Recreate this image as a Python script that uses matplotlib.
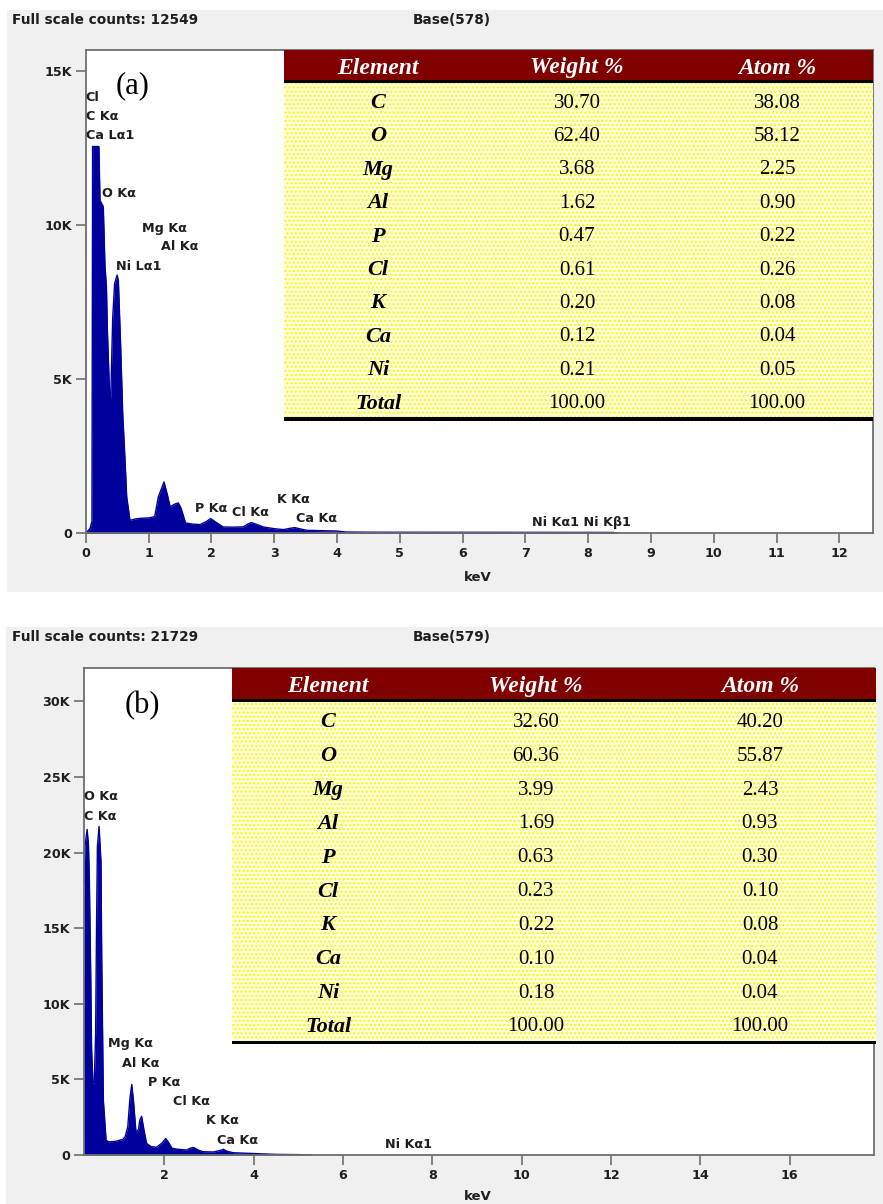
import matplotlib.pyplot as plt
from matplotlib.patches import Rectangle

W, H = 883, 1204
PANEL_BG = "#f0f0f0"
SPEC_BLUE = "#00009c"
LABEL_COL = "#1e1e1e"
SPINE_COL = "#6e6e6e"
HEAD_RED = "#800000"

# EDS spectrum, sample (a): energy in keV, counts
energy_a = [0.00, 0.07, 0.10, 0.11, 0.21, 0.228, 0.28, 0.307, 0.33, 0.345, 0.387,
            0.40, 0.43, 0.46, 0.50, 0.52, 0.557, 0.589, 0.626, 0.653, 0.705,
            0.80, 0.90, 1.00, 1.08, 1.10, 1.156, 1.247, 1.30, 1.345, 1.42, 1.475,
            1.52, 1.59, 1.70, 1.82, 1.92, 1.99, 2.08, 2.19, 2.35, 2.51, 2.58,
            2.64, 2.72, 2.83, 3.00, 3.15, 3.25, 3.33, 3.42, 3.52, 3.75, 3.98,
            4.15, 4.50, 6.00, 7.50, 8.40, 8.45, 8.50]
counts_a = [0, 160, 400, 12549, 12549, 10800, 10600, 8670, 8000, 6600, 4100,
            4500, 7000, 8100, 8380, 8200, 6050, 3900, 2370, 1180, 420,
            470, 490, 500, 530, 560, 1180, 1666, 1250, 855, 950, 985,
            800, 335, 300, 282, 380, 477, 350, 205, 200, 210, 300,
            347, 290, 205, 150, 120, 160, 185, 140, 97, 85, 75,
            42, 35, 32, 30, 28, 10, 0]

# EDS spectrum, sample (b)
energy_b = [0.20, 0.22, 0.27, 0.30, 0.32, 0.35, 0.37, 0.40, 0.43, 0.46, 0.48,
            0.50, 0.537, 0.58, 0.597, 0.634, 0.694, 0.75, 0.90, 1.07, 1.12,
            1.18, 1.23, 1.27, 1.31, 1.366, 1.42, 1.45, 1.49, 1.54, 1.60, 1.70,
            1.82, 1.95, 2.03, 2.10, 2.17, 2.30, 2.50, 2.58, 2.65, 2.74, 2.86,
            3.10, 3.25, 3.32, 3.40, 3.54, 3.98, 4.50, 5.00, 5.20, 5.30]
counts_b = [18000, 20380, 21530, 20500, 18180, 12000, 7000, 4760, 4760, 8000, 15000,
            20400, 21729, 19400, 12900, 3600, 980, 870, 900, 1030, 1200,
            1860, 3800, 4660, 3500, 1440, 1700, 2300, 2560, 1700, 770, 560,
            505, 800, 1095, 800, 440, 380, 330, 450, 505, 350, 218,
            200, 300, 374, 250, 150, 100, 40, 25, 10, 0]

# peak labels: text, keV, counts
peaks_a = [("Cl", 0.0, 14125), ("C K\u03b1", 0.0, 13508), ("Ca L\u03b11", 0.0, 12891),
           ("O K\u03b1", 0.26, 11040), ("Mg K\u03b1", 0.90, 9903),
           ("Al K\u03b1", 1.20, 9319), ("Ni L\u03b11", 0.48, 8669),
           ("P K\u03b1", 1.74, 812), ("Cl K\u03b1", 2.33, 672),
           ("K K\u03b1", 3.05, 1104), ("Ca K\u03b1", 3.35, 477),
           ("Ni K\u03b11 Ni K\u03b21", 7.10, 347)]
peaks_b = [("O K\u03b1", 0.19, 23728), ("C K\u03b1", 0.19, 22370),
           ("Mg K\u03b1", 0.73, 7367), ("Al K\u03b1", 1.04, 6081),
           ("P K\u03b1", 1.63, 4809), ("Cl K\u03b1", 2.20, 3564),
           ("K K\u03b1", 2.93, 2296), ("Ca K\u03b1", 3.17, 984),
           ("Ni K\u03b11", 6.94, 702)]

# quantification tables
elements = ["C", "O", "Mg", "Al", "P", "Cl", "K", "Ca", "Ni", "Total"]
weight_a = [30.70, 62.40, 3.68, 1.62, 0.47, 0.61, 0.20, 0.12, 0.21, 100.00]
atom_a = [38.08, 58.12, 2.25, 0.90, 0.22, 0.26, 0.08, 0.04, 0.05, 100.00]
weight_b = [32.60, 60.36, 3.99, 1.69, 0.63, 0.23, 0.22, 0.10, 0.18, 100.00]
atom_b = [40.20, 55.87, 2.43, 0.93, 0.30, 0.10, 0.08, 0.04, 0.04, 100.00]
headers = ["Element", "Weight %", "Atom %"]

yticks_a = [0, 5000, 10000, 15000]
yticks_b = [0, 5000, 10000, 15000, 20000, 25000, 30000]
xticks_a = list(range(0, 13))
xticks_b = [2, 4, 6, 8, 10, 12, 14, 16]

plt.rcParams["hatch.linewidth"] = 1.1

fig = plt.figure(figsize=(W / 100, H / 100), dpi=100)
fig.patch.set_facecolor("white")


def px_rect(x0, y0, x1, y1, **kw):
    r = Rectangle((x0 / W, 1 - y1 / H), (x1 - x0) / W, (y1 - y0) / H,
                  transform=fig.transFigure, **kw)
    fig.patches.append(r)
    return r


def px_text(x, y, s, **kw):
    return fig.text(x / W, 1 - y / H, s, **kw)


def k_label(v):
    return "0" if v == 0 else f"{v // 1000}K"


def spectrum_axes(box, energy, counts, xlim, ylim, xticks, yticks, peaks):
    x0, y0, x1, y1 = box
    ax = fig.add_axes([x0 / W, 1 - y1 / H, (x1 - x0) / W, (y1 - y0) / H])
    ax.set_facecolor("white")
    ax.fill_between(energy, counts, 0, color=SPEC_BLUE, lw=0)
    ax.plot(energy, counts, color=SPEC_BLUE, lw=1.0)
    ax.set_xlim(*xlim)
    ax.set_ylim(*ylim)
    ax.set_xticks(xticks)
    ax.set_xticklabels([str(t) for t in xticks])
    ax.set_yticks(yticks)
    ax.set_yticklabels([k_label(t) for t in yticks])
    for sp in ax.spines.values():
        sp.set_color(SPINE_COL)
        sp.set_linewidth(1.3)
    ax.tick_params(direction="out", length=7, width=1.2, color=SPINE_COL,
                   labelsize=9.2, labelcolor=LABEL_COL, pad=3)
    for lab in ax.get_xticklabels() + ax.get_yticklabels():
        lab.set_fontweight("bold")
    for name, e, c in peaks:
        ax.text(e, c, name, fontsize=9.2, fontweight="bold", color=LABEL_COL,
                ha="left", va="center", clip_on=False)
    return ax


def draw_table(left, right, top, head_bot, body_bot, cols, weights, atoms):
    px_rect(left, top, right, head_bot, facecolor=HEAD_RED, lw=0, zorder=2)
    px_rect(left, head_bot, right, head_bot + 3, facecolor="black", lw=0, zorder=2)
    # dotted yellow body of the results table
    px_rect(left, head_bot + 3, right, body_bot, facecolor="#ffffe6",
            edgecolor="#fafa00", hatch="....", lw=0, zorder=2)
    px_rect(left, body_bot, right, body_bot + 3.5, facecolor="black", lw=0, zorder=2)
    hy = (top + head_bot) / 2 + 3
    for cx, h in zip(cols, headers):
        px_text(cx, hy, h, family="Liberation Serif", fontsize=17, fontweight="bold",
                style="italic", color="white", ha="center", va="center", zorder=3)
    row_h = (body_bot - head_bot - 3) / len(elements)
    for i, el in enumerate(elements):
        ry = head_bot + 3 + (i + 0.6) * row_h
        px_text(cols[0], ry, el, family="Liberation Serif", fontsize=16,
                fontweight="bold", style="italic", color="black",
                ha="center", va="center", zorder=3)
        px_text(cols[1], ry, f"{weights[i]:.2f}", family="Liberation Serif",
                fontsize=15, color="black", ha="center", va="center", zorder=3)
        px_text(cols[2], ry, f"{atoms[i]:.2f}", family="Liberation Serif",
                fontsize=15, color="black", ha="center", va="center", zorder=3)


# grey instrument panels
px_rect(7, 10, 883, 592, facecolor=PANEL_BG, lw=0, zorder=-10)
px_rect(6, 627, 883, 1204, facecolor=PANEL_BG, lw=0, zorder=-10)

# (a)
spectrum_axes((85.7, 50, 872.7, 533.3), energy_a, counts_a, (0, 12.53), (0, 15681),
              xticks_a, yticks_a, peaks_a)
px_text(12, 20, "Full scale counts: 12549", fontsize=9.8, fontweight="bold",
        color=LABEL_COL, ha="left", va="center")
px_text(413, 20, "Base(578)", fontsize=9.8, fontweight="bold", color=LABEL_COL,
        ha="left", va="center")
px_text(478, 577, "keV", fontsize=9.5, fontweight="bold", color=LABEL_COL,
        ha="center", va="center")
px_text(132.5, 86, "(a)", family="Liberation Serif", fontsize=22, color="black",
        ha="center", va="center")
draw_table(284, 872.7, 50, 80, 417, [378, 577, 777], weight_a, atom_a)

# (b)
spectrum_axes((84, 667.7, 874, 1155), energy_b, counts_b, (0.2, 17.89), (0, 32230),
              xticks_b, yticks_b, peaks_b)
px_text(12, 637, "Full scale counts: 21729", fontsize=9.8, fontweight="bold",
        color=LABEL_COL, ha="left", va="center")
px_text(413, 637, "Base(579)", fontsize=9.8, fontweight="bold", color=LABEL_COL,
        ha="left", va="center")
px_text(478, 1197, "keV", fontsize=9.5, fontweight="bold", color=LABEL_COL,
        ha="center", va="center")
px_text(142.5, 706, "(b)", family="Liberation Serif", fontsize=22, color="black",
        ha="center", va="center")
draw_table(232, 876, 668, 699, 1040.5, [328, 536, 760], weight_b, atom_b)

fig.savefig("out.png", dpi=100)
